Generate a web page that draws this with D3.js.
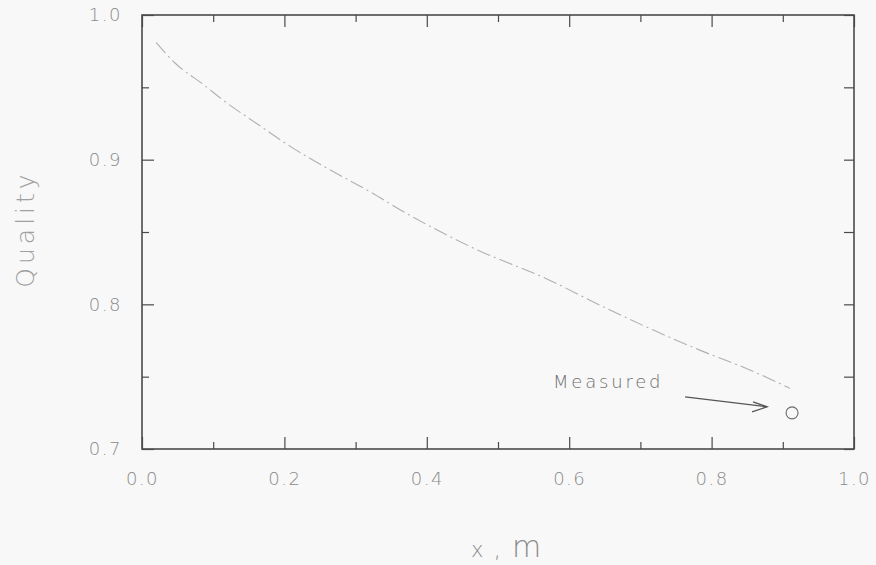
<!DOCTYPE html>
<html>
<head>
<meta charset="utf-8">
<script src="https://cdn.jsdelivr.net/npm/d3@7"></script>
<style>
  html, body { margin: 0; padding: 0; background: #f8f8f8; }
  svg { display: block; }
  text { font-family: "DejaVu Sans", sans-serif; font-weight: 200; }
</style>
</head>
<body>
<svg id="chart" width="876" height="565"></svg>
<script>
// ---- data ----
const curveX = [0.020, 0.046, 0.086, 0.117, 0.161, 0.212, 0.264, 0.316, 0.371, 0.465, 0.571, 0.645, 0.719, 0.785, 0.852, 0.910];
const curveY = [0.981, 0.967, 0.952, 0.940, 0.925, 0.908, 0.893, 0.879, 0.863, 0.839, 0.817, 0.799, 0.782, 0.768, 0.755, 0.742];
const measuredX = [0.913];
const measuredY = [0.725];
const xTicks = [0.0, 0.2, 0.4, 0.6, 0.8, 1.0];
const xMinorTicks = [0.1, 0.3, 0.5, 0.7, 0.9];
const yTicks = [0.7, 0.8, 0.9, 1.0];
const yMinorTicks = [0.75, 0.85, 0.95];
const annotation = "Measured";
const yTitle = "Quality";

// ---- layout ----
const svg = d3.select("#chart");
const L = 142, R = 854, T = 15, B = 449;
const x = d3.scaleLinear().domain([0, 1]).range([L, R]);
const y = d3.scaleLinear().domain([0.7, 1.0]).range([B, T]);
const frameColor = "#4a4a4a";
const labelColor = "#8a8a8a";

// frame
svg.append("rect")
  .attr("x", L).attr("y", T).attr("width", R - L).attr("height", B - T)
  .attr("fill", "none").attr("stroke", frameColor).attr("stroke-width", 1.6);

function styleAxis(g) {
  g.select(".domain").remove();
  g.selectAll(".tick line").attr("stroke", frameColor).attr("stroke-width", 1.2);
  g.selectAll(".tick text")
    .attr("fill", labelColor)
    .style("font-size", "18px")
    .style("letter-spacing", "1.5px");
}

// bottom major (with labels)
svg.append("g").attr("transform", `translate(0,${B})`)
  .call(d3.axisBottom(x).tickValues(xTicks).tickSize(-12).tickPadding(23).tickFormat(d3.format(".1f")))
  .call(styleAxis);
svg.append("g").attr("transform", `translate(0,${B})`)
  .call(d3.axisBottom(x).tickValues(xMinorTicks).tickSize(-7).tickFormat(""))
  .call(styleAxis);
// top
svg.append("g").attr("transform", `translate(0,${T})`)
  .call(d3.axisTop(x).tickValues(xTicks).tickSize(-12).tickFormat(""))
  .call(styleAxis);
svg.append("g").attr("transform", `translate(0,${T})`)
  .call(d3.axisTop(x).tickValues(xMinorTicks).tickSize(-7).tickFormat(""))
  .call(styleAxis);
// left
svg.append("g").attr("transform", `translate(${L},0)`)
  .call(d3.axisLeft(y).tickValues(yTicks).tickSize(-12).tickPadding(20).tickFormat(d3.format(".1f")))
  .call(styleAxis);
svg.append("g").attr("transform", `translate(${L},0)`)
  .call(d3.axisLeft(y).tickValues(yMinorTicks).tickSize(-7).tickFormat(""))
  .call(styleAxis);
// right
svg.append("g").attr("transform", `translate(${R},0)`)
  .call(d3.axisRight(y).tickValues(yTicks).tickSize(-10).tickFormat(""))
  .call(styleAxis);
svg.append("g").attr("transform", `translate(${R},0)`)
  .call(d3.axisRight(y).tickValues(yMinorTicks).tickSize(-10).tickFormat(""))
  .call(styleAxis);

// curve
const pts = curveX.map((v, i) => [v, curveY[i]]);
const line = d3.line().x(d => x(d[0])).y(d => y(d[1])).curve(d3.curveMonotoneX);
svg.append("path").datum(pts)
  .attr("d", line)
  .attr("fill", "none")
  .attr("stroke", "#b0b0b0")
  .attr("stroke-width", 1.1)
  .attr("stroke-dasharray", "14,4,2,4");

// measured point
svg.selectAll("circle.meas").data(measuredX.map((v, i) => [v, measuredY[i]]))
  .enter().append("circle")
  .attr("cx", d => x(d[0])).attr("cy", d => y(d[1])).attr("r", 6)
  .attr("fill", "none").attr("stroke", "#6a6a6a").attr("stroke-width", 1.1);

// annotation arrow
const mx = x(measuredX[0]), my = y(measuredY[0]);
const tipX = mx - 25, tipY = my - 6;
const tailX = mx - 107, tailY = my - 16;
svg.append("line")
  .attr("x1", tailX).attr("y1", tailY).attr("x2", tipX).attr("y2", tipY)
  .attr("stroke", "#555").attr("stroke-width", 1.3);
svg.append("path")
  .attr("d", `M${tipX - 14},${tipY - 5} L${tipX},${tipY} L${tipX - 15},${tipY + 5}`)
  .attr("fill", "none").attr("stroke", "#555").attr("stroke-width", 1.3);

svg.append("text")
  .attr("x", 553).attr("y", 388)
  .attr("fill", "#6e6e6e")
  .style("font-size", "18px")
  .style("letter-spacing", "2.8px")
  .text(annotation);

// y title
svg.append("text")
  .attr("transform", "translate(34,229) rotate(-90)")
  .attr("text-anchor", "middle")
  .attr("fill", "#a0a0a0")
  .style("font-size", "25px")
  .style("letter-spacing", "4px")
  .text(yTitle);

// x title
const xt = svg.append("text")
  .attr("x", 471).attr("y", 557)
  .attr("fill", "#8a8a8a");
xt.append("tspan").style("font-size", "21px").text("x");
xt.append("tspan").style("font-size", "24px").attr("dx", 10).text(",");
xt.append("tspan").style("font-size", "30px").attr("dx", 11).text("m");
</script>
</body>
</html>
